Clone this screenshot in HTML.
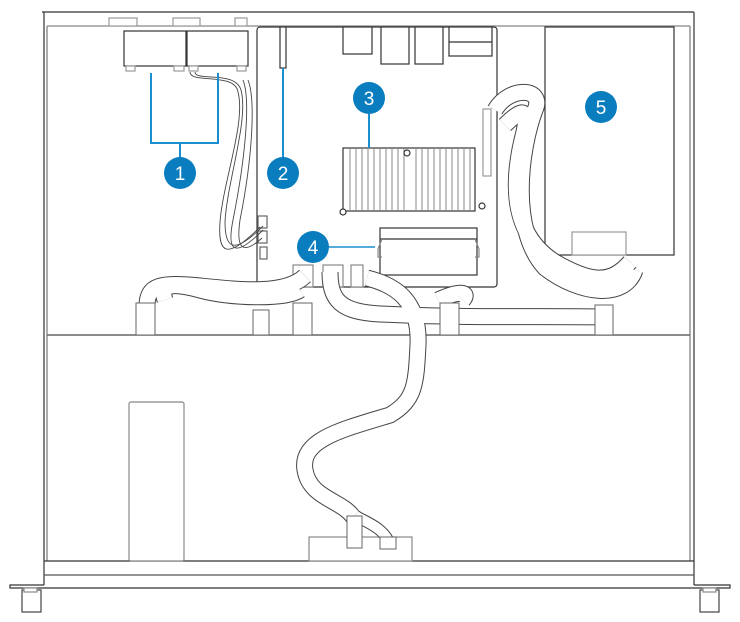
<!DOCTYPE html>
<html><head><meta charset="utf-8"><style>
html,body{margin:0;padding:0;background:#fff;}
svg{display:block;}
text{font-family:"Liberation Sans",sans-serif;font-size:19px;fill:#fff;text-anchor:middle;}
</style></head><body>
<svg width="740" height="622" viewBox="0 0 740 622" xmlns="http://www.w3.org/2000/svg">
<g fill="#fff" stroke="#333" stroke-width="1.2">
<line x1="42" y1="12" x2="694" y2="12"/>
<line x1="44" y1="12" x2="44" y2="585"/>
<line x1="47" y1="26" x2="47" y2="561" stroke="#777"/>
<line x1="694" y1="12" x2="694" y2="585"/>
<line x1="690" y1="26" x2="690" y2="561" stroke="#777"/>
<line x1="47" y1="26" x2="690" y2="26" stroke="#888"/>
<line x1="47" y1="335" x2="690" y2="335" stroke="#666" stroke-width="1.5"/>
<line x1="44" y1="561" x2="694" y2="561"/>
<line x1="44" y1="575" x2="694" y2="575" stroke="#555"/>
<polyline points="44,585 10,585 10,588 730,588 730,585 694,585" fill="none"/>
<rect x="22" y="590" width="19" height="22" stroke="#444"/>
<rect x="24" y="588" width="13" height="4" stroke="#888"/>
<rect x="700" y="590" width="19" height="22" stroke="#444"/>
<rect x="703" y="588" width="13" height="4" stroke="#888"/>
<rect x="129" y="402" width="55" height="159" rx="2" stroke="#888"/>
<rect x="309" y="537" width="103" height="24" stroke="#888"/>
<rect x="109" y="18" width="28" height="8" stroke="#999"/>
<rect x="173" y="18" width="27" height="8" stroke="#999"/>
<rect x="235" y="18" width="12" height="8" stroke="#999"/>
<rect x="124" y="31" width="62" height="35"/>
<rect x="187" y="31" width="61" height="35"/>
<rect x="126" y="66" width="9" height="5" stroke="#999"/>
<rect x="174" y="66" width="10" height="5" stroke="#999"/>
<rect x="189" y="66" width="9" height="5" stroke="#999"/>
<rect x="237" y="66" width="9" height="5" stroke="#999"/>
<rect x="257" y="27" width="240" height="260" rx="3"/>
<rect x="280" y="27" width="6" height="41"/>
<rect x="343" y="27" width="29" height="27"/>
<rect x="381" y="27" width="28" height="37"/>
<rect x="415" y="27" width="28" height="37"/>
<rect x="449" y="27" width="43" height="29"/>
<line x1="449" y1="42" x2="492" y2="42"/>
<rect x="343" y="148" width="132" height="63"/>
<g stroke="#888" stroke-width="1">
<path d="M350 148v63M356 148v63M362 148v63M368 148v63M374 148v63M380 148v63M386 148v63M392 148v63M398 148v63M404 148v63M416 148v63M422 148v63M428 148v63M434 148v63M440 148v63M446 148v63M452 148v63M458 148v63M464 148v63M470 148v63"/>
</g>
<circle cx="407" cy="153" r="3"/>
<circle cx="343" cy="212" r="3"/>
<circle cx="482" cy="206" r="3"/>
<rect x="380" y="228" width="97" height="47"/>
<line x1="380" y1="239" x2="477" y2="239"/>
<path d="M382 239l-4 10v8h4M475 239l4 10v8h-4" fill="none" stroke="#888"/>
<rect x="258" y="216" width="9" height="12" stroke="#666"/>
<rect x="258" y="231" width="9" height="12" stroke="#666"/>
<rect x="260" y="247" width="7" height="12" stroke="#666"/>
<rect x="293" y="265" width="20" height="22" stroke="#888"/>
<rect x="323" y="265" width="20" height="22" stroke="#888"/>
<rect x="351" y="265" width="12" height="22" stroke="#888"/>
<rect x="545" y="27" width="129" height="228"/>
<rect x="572" y="232" width="54" height="23" stroke="#999"/>
<rect x="483" y="109" width="8" height="67" stroke="#999"/>
</g>
<g fill="none" stroke="#444" stroke-width="0.9">
<path d="M190 72c0 12 45 0 48 20c8 30-15 90-18 130c-2 30 5 40 40 5"/>
<path d="M195 72c0 10 40 -2 46 18c8 30-14 92-16 132c0 26 8 34 38 4"/>
<path d="M243 80c8 20 2 80-10 140c-6 30 0 40 30 10"/>
<path d="M248 80c8 20 4 80-8 140c-4 28 2 36 22 18"/>
</g>
<g fill="none">
<g stroke="#444" stroke-width="17">
<path d="M147 306C147 285 160 282 200 286S285 295 305 276"/>
<path d="M165 300C160 285 170 282 200 290S285 300 300 290"/>
<path d="M495 110C510 85 545 88 535 110C520 150 510 230 545 268C580 295 625 300 635 270"/>
<path d="M505 125C525 105 530 110 522 140C508 200 520 240 555 262C590 282 610 285 630 262"/>
<path d="M330 272C330 300 340 312 380 314C460 318 540 316 605 317"/>
<path d="M367 278C395 285 420 300 418 345C416 385 415 400 390 415C340 430 300 440 305 470C310 500 345 500 355 520"/>
<path d="M438 300C460 290 470 292 463 300"/>
</g>
<g stroke="#fff" stroke-width="15">
<path d="M147 306C147 285 160 282 200 286S285 295 305 276"/>
<path d="M165 300C160 285 170 282 200 290S285 300 300 290"/>
<path d="M495 110C510 85 545 88 535 110C520 150 510 230 545 268C580 295 625 300 635 270"/>
<path d="M505 125C525 105 530 110 522 140C508 200 520 240 555 262C590 282 610 285 630 262"/>
<path d="M330 272C330 300 340 312 380 314C460 318 540 316 605 317"/>
<path d="M367 278C395 285 420 300 418 345C416 385 415 400 390 415C340 430 300 440 305 470C310 500 345 500 355 520"/>
<path d="M438 300C460 290 470 292 463 300"/>
</g>
<path d="M355 515C360 520 380 525 388 540" stroke="#444" stroke-width="12"/>
<path d="M355 515C360 520 380 525 388 540" stroke="#fff" stroke-width="10"/>
</g>
<g fill="#fff" stroke="#666" stroke-width="1">
<rect x="136" y="303" width="19" height="32"/>
<rect x="253" y="310" width="16" height="25"/>
<rect x="293" y="303" width="19" height="32"/>
<rect x="440" y="303" width="19" height="32"/>
<rect x="595" y="305" width="18" height="30"/>
<rect x="347" y="516" width="15" height="32"/>
<rect x="380" y="537" width="16" height="12"/>
</g>
<g stroke="#1a8fd0" stroke-width="2" fill="none">
<polyline points="151,73 151,143 218,143 218,73"/>
<line x1="180" y1="143" x2="180" y2="160"/>
<line x1="283" y1="68" x2="283" y2="160"/>
<line x1="369" y1="110" x2="369" y2="148"/>
<line x1="325" y1="247" x2="375" y2="247" stroke-width="1.5"/>
</g>
<g fill="#0a7dbf">
<circle cx="180" cy="173" r="16"/>
<circle cx="283" cy="173" r="16"/>
<circle cx="369" cy="98" r="16"/>
<circle cx="313" cy="247" r="16"/>
<circle cx="601" cy="107" r="16"/>
</g>
<text x="180" y="180">1</text>
<text x="283" y="180">2</text>
<text x="369" y="105">3</text>
<text x="313" y="254">4</text>
<text x="601" y="114">5</text>
</svg>
</body></html>
